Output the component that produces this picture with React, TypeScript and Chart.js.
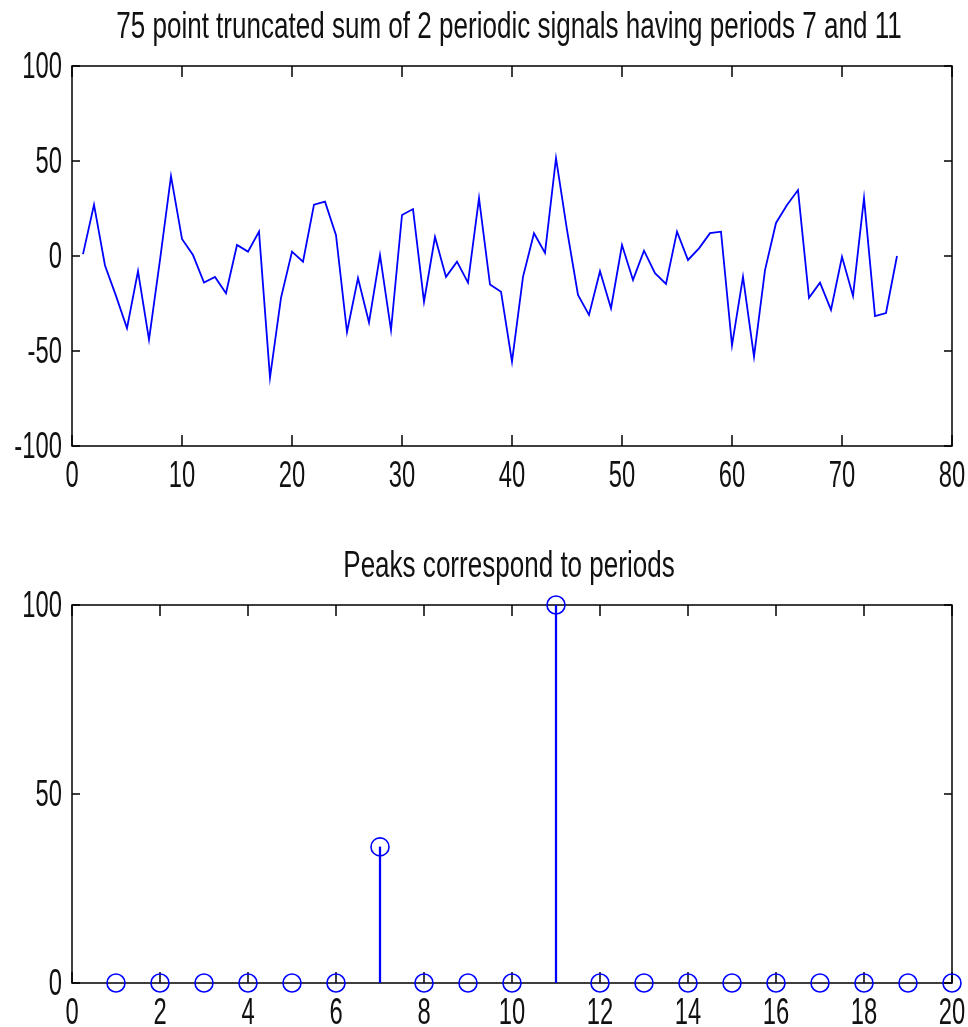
import React, { useEffect, useRef } from "react";
import { Chart, registerables } from "chart.js";

Chart.register(...registerables);

// ---------- data ----------
const signalTitle = "75 point truncated sum of 2 periodic signals having periods 7 and 11";
const signalValues = [
  1, 27, -5, -21, -38, -8, -44, -2, 42, 9,
  0.5, -14, -11, -19.6, 5.8, 2.3, 12.8, -64, -22, 2.3,
  -3, 27, 28.6, 11, -40, -11.6, -35, 0.5, -39, 21.6,
  24.7, -24, 10, -11, -3, -14, 30.5, -15, -18.8, -55.6,
  -11, 12, 1.6, 51.5, 13.7, -20.5, -31, -8, -27.5, 5.8,
  -12.6, 2.8, -9, -14.7, 12.8, -2.1, 4, 12, 12.8, -47,
  -11, -53, -7.4, 17.4, 26.8, 34.7, -22, -14, -28.4, -0.4,
  -21, 30.5, -31.6, -30, 0,
];
const signalXTicks = [0, 10, 20, 30, 40, 50, 60, 70, 80];
const signalYTicks = [-100, -50, 0, 50, 100];

const periodTitle = "Peaks correspond to periods";
const periodX = [1, 2, 3, 4, 5, 6, 7, 8, 9, 10, 11, 12, 13, 14, 15, 16, 17, 18, 19, 20];
const periodValues = [0, 0, 0, 0, 0, 0, 36, 0, 0, 0, 100, 0, 0, 0, 0, 0, 0, 0, 0, 0];
const periodXTicks = [0, 2, 4, 6, 8, 10, 12, 14, 16, 18, 20];
const periodYTicks = [0, 50, 100];

// ---------- styling ----------
const FONT = "'Liberation Sans', Arial, Helvetica, sans-serif";
const BLUE = "#0000ff";
const TEXT = "#111111";

function drawStretched(
  ctx: CanvasRenderingContext2D,
  text: string,
  x: number,
  y: number,
  align: CanvasTextAlign,
  sx: number,
  sy: number
) {
  ctx.save();
  ctx.translate(x, y);
  ctx.scale(sx, sy);
  ctx.font = `28px ${FONT}`;
  ctx.fillStyle = TEXT;
  ctx.textAlign = align;
  ctx.textBaseline = "alphabetic";
  ctx.fillText(text, 0, 0);
  ctx.restore();
}

const matlabAxes = {
  id: "matlabAxes",
  beforeDatasetsDraw(chart: any, _args: any, opts: any) {
    const { ctx, chartArea: a, scales } = chart;
    const x = scales.x;
    const y = scales.y;
    ctx.save();
    ctx.strokeStyle = "#000";
    ctx.lineWidth = 1.5;
    ctx.strokeRect(a.left, a.top, a.right - a.left, a.bottom - a.top);
    ctx.beginPath();
    for (const v of opts.xTicks) {
      const px = x.getPixelForValue(v);
      ctx.moveTo(px, a.bottom);
      ctx.lineTo(px, a.bottom - 11);
      ctx.moveTo(px, a.top);
      ctx.lineTo(px, a.top + 11);
    }
    for (const v of opts.yTicks) {
      const py = y.getPixelForValue(v);
      ctx.moveTo(a.left, py);
      ctx.lineTo(a.left + 8, py);
      ctx.moveTo(a.right, py);
      ctx.lineTo(a.right - 8, py);
    }
    ctx.stroke();
    ctx.restore();
  },
  afterDraw(chart: any, _args: any, opts: any) {
    const { ctx, chartArea: a, scales } = chart;
    const x = scales.x;
    const y = scales.y;
    for (const v of opts.xTicks) {
      drawStretched(ctx, String(v), x.getPixelForValue(v), a.bottom + 41, "center", 0.85, 1.33);
    }
    for (const v of opts.yTicks) {
      drawStretched(ctx, String(v), a.left - 10, y.getPixelForValue(v) + 12, "right", 0.85, 1.33);
    }
    drawStretched(ctx, opts.title, (a.left + a.right) / 2 - 3, a.top - 28, "center", 0.93, 1.3);
  },
};

function ChartCanvas({ config, width, height }: { config: any; width: number; height: number }) {
  const ref = useRef<HTMLCanvasElement | null>(null);
  useEffect(() => {
    if (!ref.current) return;
    const chart = new Chart(ref.current, config);
    return () => chart.destroy();
  }, [config]);
  return <canvas ref={ref} width={width} height={height} style={{ display: "block", width, height }} />;
}

const hiddenScale = (min: number, max: number) => ({
  type: "linear",
  min,
  max,
  display: false,
  offset: false,
});

const signalConfig = {
  type: "line",
  data: {
    datasets: [
      {
        data: signalValues.map((v, i) => ({ x: i + 1, y: v })),
        borderColor: BLUE,
        borderWidth: 1.8,
        pointRadius: 0,
        tension: 0,
        fill: false,
      },
    ],
  },
  options: {
    responsive: false,
    animation: false,
    events: [],
    layout: { padding: { left: 72, right: 16, top: 66, bottom: 54 } },
    scales: { x: hiddenScale(0, 80), y: hiddenScale(-100, 100) },
    plugins: {
      legend: { display: false },
      tooltip: { enabled: false },
      title: { display: false },
      matlabAxes: { xTicks: signalXTicks, yTicks: signalYTicks, title: signalTitle },
    },
  },
  plugins: [matlabAxes],
};

const periodConfig = {
  type: "bar",
  data: {
    datasets: [
      {
        type: "bar",
        data: periodX.map((p, i) => ({ x: p, y: periodValues[i] })),
        backgroundColor: BLUE,
        borderWidth: 0,
        barThickness: 1.6,
      },
      {
        type: "scatter",
        data: periodX.map((p, i) => ({ x: p, y: periodValues[i] })),
        showLine: false,
        pointRadius: 9,
        pointBorderWidth: 1.6,
        pointBorderColor: BLUE,
        pointBackgroundColor: "rgba(0,0,0,0)",
        clip: false,
      },
    ],
  },
  options: {
    responsive: false,
    animation: false,
    events: [],
    layout: { padding: { left: 72, right: 16, top: 105, bottom: 44 } },
    scales: { x: hiddenScale(0, 20), y: hiddenScale(0, 100) },
    plugins: {
      legend: { display: false },
      tooltip: { enabled: false },
      title: { display: false },
      matlabAxes: { xTicks: periodXTicks, yTicks: periodYTicks, title: periodTitle },
    },
  },
  plugins: [matlabAxes],
};

export default function App() {
  return (
    <div style={{ position: "absolute", left: 0, top: 0, width: 968, height: 1027, background: "#fff" }}>
      <ChartCanvas config={signalConfig} width={968} height={500} />
      <ChartCanvas config={periodConfig} width={968} height={527} />
    </div>
  );
}
